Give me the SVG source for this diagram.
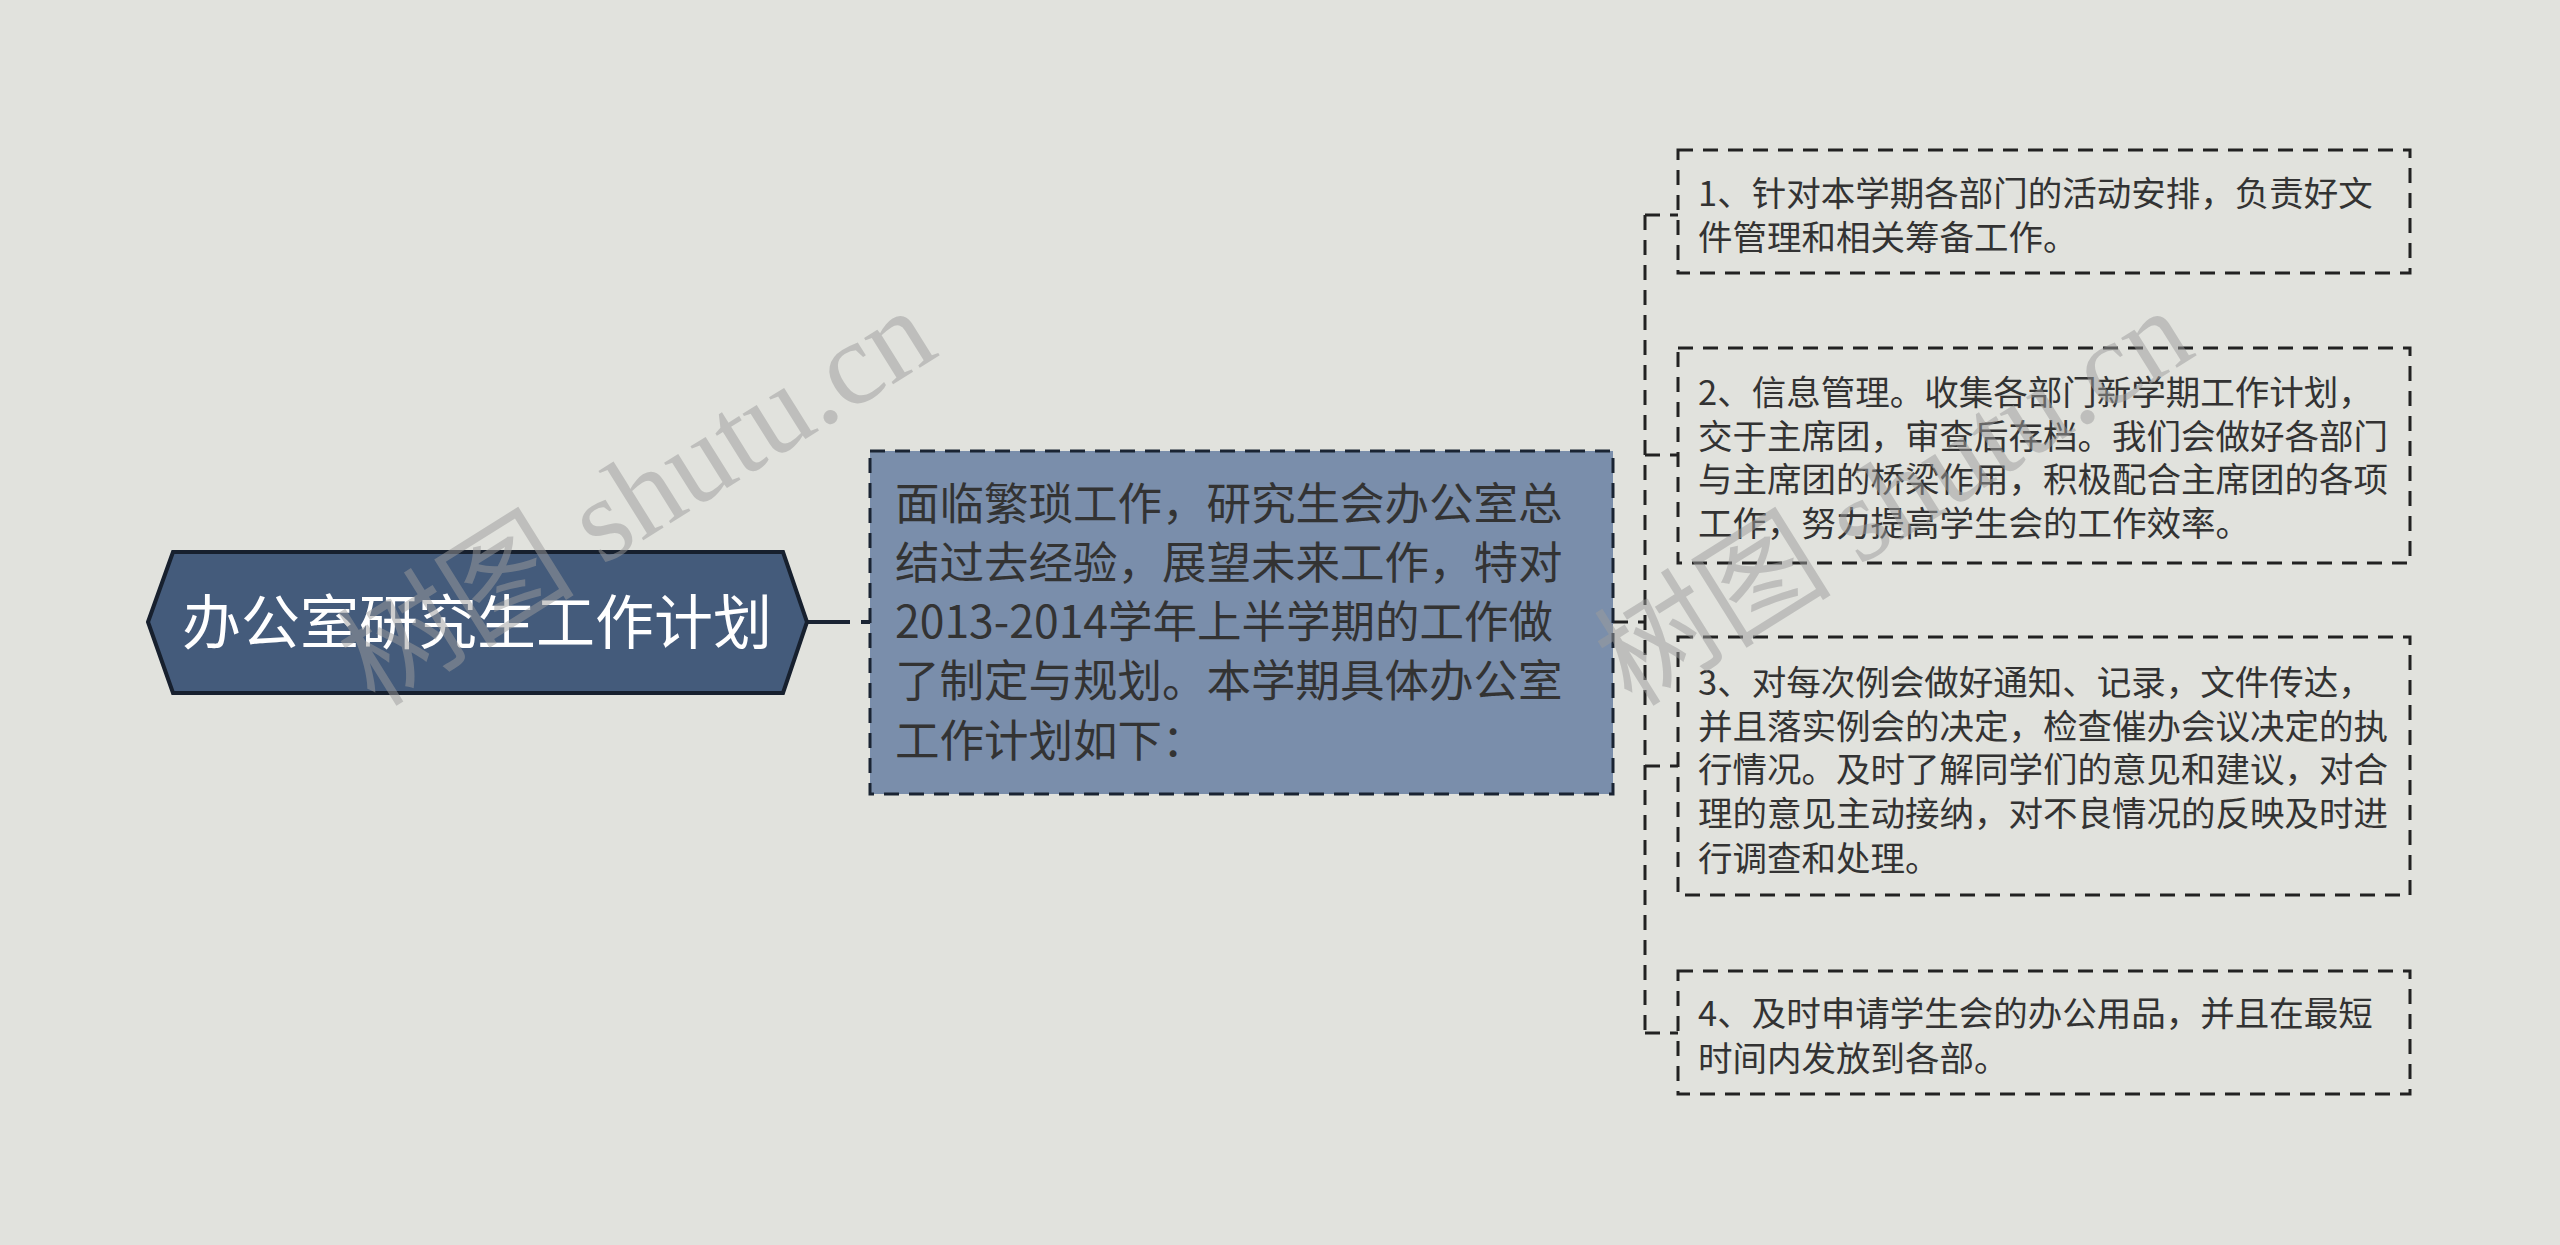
<svg xmlns="http://www.w3.org/2000/svg" width="2560" height="1245" viewBox="0 0 2560 1245">
<style>
.bg{fill:#e1e2dd}
.root{fill:#445b7b;stroke:#17202e;stroke-width:4;stroke-linejoin:miter}
.rootText{font-family:"Noto Sans CJK SC","Noto Sans",sans-serif;font-size:59px;fill:#ffffff}
.mid{fill:#7a8eab;stroke:#1a2433;stroke-width:3;stroke-dasharray:15 10}
.midText{font-family:"Noto Sans CJK SC","Noto Sans",sans-serif;font-size:44.5px;fill:#333333}
.leaf{fill:#e1e2dd;stroke:#222222;stroke-width:3;stroke-dasharray:15 10}
.leafText{font-family:"Noto Sans CJK SC","Noto Sans",sans-serif;font-size:34.5px;fill:#333333}
.conn{fill:none;stroke:#222222;stroke-width:3;stroke-dasharray:15 10}
.solid{fill:none;stroke:#1a2433;stroke-width:4}
.wm{font-family:"Liberation Serif","Noto Sans CJK SC",serif;font-size:119px;fill:#9c9c9c;opacity:0.5}
</style>
<rect class="bg" x="0" y="0" width="2560" height="1245"/>

<g id="connectors">
  <line class="solid" x1="808" y1="622" x2="850" y2="622"/>
  <line class="solid" x1="861" y1="622" x2="870" y2="622"/>
  <path class="conn" d="M1613 622 H1645"/>
  <path class="conn" d="M1645 215 V1033"/>
  <path class="conn" d="M1645 215 H1678"/>
  <path class="conn" d="M1645 455 H1678"/>
  <path class="conn" d="M1645 766 H1678"/>
  <path class="conn" d="M1645 1033 H1678"/>
</g>

<g id="node-root">
  <polygon class="root" points="148,622 173,552 783,552 807,622 783,693 173,693"/>
  <text class="rootText" x="477" y="644" text-anchor="middle">办公室研究生工作计划</text>
</g>

<g id="node-main">
  <rect class="mid" x="870" y="451" width="743" height="343"/>
  <text class="midText">
    <tspan x="895" y="520">面临繁琐工作，研究生会办公室总</tspan>
    <tspan x="895" y="579">结过去经验，展望未来工作，特对</tspan>
    <tspan x="895" y="638">2013-2014学年上半学期的工作做</tspan>
    <tspan x="895" y="697">了制定与规划。本学期具体办公室</tspan>
    <tspan x="895" y="757">工作计划如下：</tspan>
  </text>
</g>

<g id="node-1">
  <rect class="leaf" x="1678" y="150" width="732" height="123"/>
  <text class="leafText">
    <tspan x="1698" y="206">1、针对本学期各部门的活动安排，负责好文</tspan>
    <tspan x="1698" y="250">件管理和相关筹备工作。</tspan>
  </text>
</g>

<g id="node-2">
  <rect class="leaf" x="1678" y="348" width="732" height="215"/>
  <text class="leafText">
    <tspan x="1698" y="405">2、信息管理。收集各部门新学期工作计划，</tspan>
    <tspan x="1698" y="449">交于主席团，审查后存档。我们会做好各部门</tspan>
    <tspan x="1698" y="492">与主席团的桥梁作用，积极配合主席团的各项</tspan>
    <tspan x="1698" y="536">工作，努力提高学生会的工作效率。</tspan>
  </text>
</g>

<g id="node-3">
  <rect class="leaf" x="1678" y="637" width="732" height="258"/>
  <text class="leafText">
    <tspan x="1698" y="695">3、对每次例会做好通知、记录，文件传达，</tspan>
    <tspan x="1698" y="739">并且落实例会的决定，检查催办会议决定的执</tspan>
    <tspan x="1698" y="782">行情况。及时了解同学们的意见和建议，对合</tspan>
    <tspan x="1698" y="826">理的意见主动接纳，对不良情况的反映及时进</tspan>
    <tspan x="1698" y="871">行调查和处理。</tspan>
  </text>
</g>

<g id="node-4">
  <rect class="leaf" x="1678" y="971" width="732" height="123"/>
  <text class="leafText">
    <tspan x="1698" y="1026">4、及时申请学生会的办公用品，并且在最短</tspan>
    <tspan x="1698" y="1071">时间内发放到各部。</tspan>
  </text>
</g>

<g id="watermarks">
  <text class="wm" x="375" y="708" transform="rotate(-32 375 708)">树图 shutu.cn</text>
  <text class="wm" x="1632" y="708" transform="rotate(-32 1632 708)">树图 shutu.cn</text>
</g>
</svg>
